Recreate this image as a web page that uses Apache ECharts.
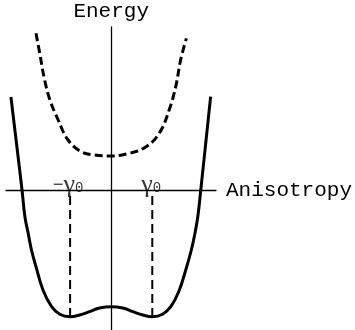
<!DOCTYPE html>
<html>
<head>
<meta charset="utf-8">
<script src="https://cdn.jsdelivr.net/npm/echarts@6/dist/echarts.min.js"></script>
<style>
  html, body { margin: 0; padding: 0; background: #fff; }
  #chart { width: 355px; height: 330px; }
</style>
</head>
<body>
<div id="chart"></div>
<script>
// Anisotropy in units of γ0, energy in arbitrary units (0 on the horizontal axis)

// lower branch: double-well, minima at ±γ0
const solidX = [-2.44, -2.17, -2.10, -2.02, -1.94, -1.83, -1.66, -1.45, -1.25, -1.0, -0.77, -0.53, -0.28, 0,
                0.28, 0.53, 0.77, 1.0, 1.25, 1.45, 1.64, 1.80, 1.95, 2.04, 2.11, 2.18, 2.42];
const solidE = [9.3, 0, -2.67, -4.33, -6.0, -7.67, -10.0, -11.67, -12.43, -12.67, -12.5, -12.17, -11.8, -11.67,
                -11.8, -12.17, -12.5, -12.67, -12.43, -11.67, -10.2, -8.2, -6.0, -4.3, -2.6, 0, 9.33];

// upper branch: single well centred at zero
const dashX = [-1.83, -1.74, -1.62, -1.49, -1.29, -1.05, -0.73, -0.40, 0,
               0.44, 0.85, 1.17, 1.41, 1.57, 1.69, 1.83];
const dashE = [15.67, 13.7, 11.0, 9.0, 7.0, 5.0, 3.83, 3.5, 3.4,
               3.67, 4.33, 5.67, 8.0, 10.33, 13.0, 15.17];

// the two minima of the lower branch
const minimaX = [-1, 1];
const minimaE = -12.67;
const minimaLabels = ['{m|−}{g|γ}{s|0}', '{g|γ}{s|0}'];

const pairs = (xs, ys) => xs.map((x, i) => [x, Array.isArray(ys) ? ys[i] : ys]);

const richText = {
  m: { fontFamily: 'Liberation Mono', fontSize: 18, color: '#000' },
  g: { fontFamily: 'Liberation Serif', fontSize: 26, color: '#000' },
  s: { fontFamily: 'Liberation Mono', fontSize: 14, color: '#000', padding: [6, 0, 0, 0] }
};

const chart = echarts.init(document.getElementById('chart'), null, { renderer: 'canvas' });

const guideSeries = minimaX.map(x => ({
  type: 'line',
  data: [[x, -0.6], [x, minimaE]],
  symbol: 'none',
  silent: true,
  lineStyle: { color: '#000', width: 2, type: [9, 5] },
  z: 3
}));

chart.setOption({
  animation: false,
  grid: { left: 6, right: 138, top: 27, bottom: 0, containLabel: false },
  xAxis: {
    type: 'value',
    min: -2.56,
    max: 2.55,
    name: 'Anisotropy',
    nameLocation: 'end',
    nameGap: 10,
    nameTextStyle: { fontFamily: 'Liberation Mono', fontSize: 21, color: '#000' },
    axisLine: { onZero: true, lineStyle: { color: '#000', width: 1.3 } },
    axisTick: { show: false },
    axisLabel: { show: false },
    splitLine: { show: false }
  },
  yAxis: {
    type: 'value',
    min: -14,
    max: 16.3,
    name: 'Energy',
    nameLocation: 'end',
    nameGap: 5,
    nameTextStyle: { fontFamily: 'Liberation Mono', fontSize: 21, color: '#000', align: 'center' },
    axisLine: { show: true, onZero: true, lineStyle: { color: '#000', width: 1.3 } },
    axisTick: { show: false },
    axisLabel: { show: false },
    splitLine: { show: false }
  },
  series: [
    {
      type: 'line',
      data: pairs(dashX, dashE),
      smooth: 0.4,
      symbol: 'none',
      lineStyle: { color: '#000', width: 3, type: [8, 4] },
      z: 4
    },
    {
      type: 'line',
      data: pairs(solidX, solidE),
      smooth: 0.4,
      symbol: 'none',
      lineStyle: { color: '#000', width: 3 },
      z: 5
    },
    ...guideSeries,
    {
      type: 'scatter',
      symbolSize: 0,
      silent: true,
      data: minimaX.map((x, i) => ({
        value: [x, 0],
        label: {
          show: true,
          position: 'inside',
          offset: i === 0 ? [-2, -5] : [-1, -5],
          formatter: minimaLabels[i],
          rich: richText
        }
      })),
      z: 6
    }
  ]
});
</script>
</body>
</html>
